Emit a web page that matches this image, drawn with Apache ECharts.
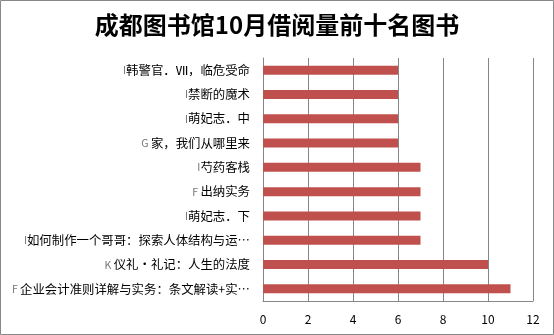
<!DOCTYPE html>
<html>
<head>
<meta charset="utf-8">
<script src="https://cdn.jsdelivr.net/npm/echarts@6/dist/echarts.min.js"></script>
<style>html,body{margin:0;padding:0;background:#fff;}#c{width:554px;height:335px;}</style>
</head>
<body>
<div id="c"></div>
<script>
// categories listed bottom to top (ECharts category order)
const codes = ['F', 'K', 'I', 'I', 'F', 'I', 'G', 'I', 'I', 'I'];
const titles = [
  '企业会计准则详解与实务：条文解读+实…',
  '仪礼·礼记：人生的法度',
  '如何制作一个哥哥：探索人体结构与运…',
  '萌妃志．下',
  '出纳实务',
  '芍药客栈',
  '家，我们从哪里来',
  '萌妃志．中',
  '禁断的魔术',
  '韩警官．Ⅶ，临危受命'
];
const values = [11, 10, 7, 7, 7, 7, 6, 6, 6, 6];
const xTicks = [0, 2, 4, 6, 8, 10, 12];

const categories = titles.map((t, i) => codes[i] + '|' + t);

const chart = echarts.init(document.getElementById('c'), null, {renderer: 'canvas'});
chart.setOption({
  animation: false,
  backgroundColor: '#fff',
  title: {
    text: '成都图书馆10月借阅量前十名图书',
    left: 'center',
    top: 8,
    textStyle: {fontFamily: 'Noto Sans CJK SC', fontSize: 24, fontWeight: 'bold', color: '#000'}
  },
  graphic: [{
    type: 'rect', shape: {x: 0.5, y: 0.5, width: 553, height: 334},
    style: {fill: 'none', stroke: '#888', lineWidth: 1}, silent: true
  }],
  grid: {left: 263, right: 21, top: 58, bottom: 34, containLabel: false},
  xAxis: {
    type: 'value', min: xTicks[0], max: xTicks[xTicks.length - 1], interval: 2,
    axisLine: {show: true, lineStyle: {color: '#868686'}},
    axisTick: {show: false},
    splitLine: {show: true, lineStyle: {color: '#868686', width: 1}},
    axisLabel: {color: '#000', fontSize: 12, fontFamily: 'Noto Sans CJK SC', margin: 12}
  },
  yAxis: {
    type: 'category', data: categories,
    axisLine: {show: true, lineStyle: {color: '#868686'}},
    axisTick: {show: false},
    axisLabel: {
      margin: 13,
      formatter: function (v) {
        const p = v.split('|');
        const code = p[0];
        const sep = (code === 'G' || code === 'K' || code === 'F') ? ' ' : '';
        return '{c|' + code + sep + '}{t|' + p[1] + '}';
      },
      rich: {
        c: {color: '#777', fontSize: 10.5, fontFamily: 'Noto Sans CJK SC'},
        t: {color: '#000', fontSize: 12.4, fontFamily: 'Noto Sans CJK SC'}
      }
    }
  },
  series: [{
    type: 'bar', data: values, barWidth: 9,
    itemStyle: {color: '#C0504D'}
  }]
});
</script>
</body>
</html>
